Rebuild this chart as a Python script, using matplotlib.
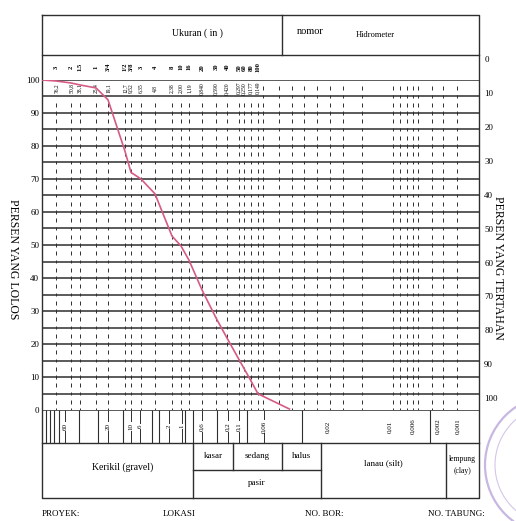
import matplotlib.pyplot as plt
from matplotlib.patches import Circle
import numpy as np

plt.rcParams['font.family'] = ['Liberation Serif', 'DejaVu Serif']

W, H = 516, 521

# sieves along the top of the chart
sieve_names = ['3', '2', '1.5', '1', '3/4', '1/2', '3/8', '3', '4', '8', '10', '16',
               '20', '30', '40', '50', '60', '80', '100']
sieve_mm = [76.2, 50.8, 38.1, 25.4, 19.1, 12.7, 9.52, 6.35, 4.8, 2.38, 2.00, 1.19,
            0.840, 0.590, 0.420, 0.297, 0.250, 0.177, 0.149]
sieve_mm_text = ['76,2', '50,8', '38,1', '25,4', '19,1', '12,7', '9,52', '6,35', '4,8',
                 '2,38', '2,00', '1,19', '0,840', '0,590', '0,420', '0,297', '0,250',
                 '0,177', '0,149']
hydro_cols = [0.08, 0.055, 0.042, 0.033, 0.025, 0.0196, 0.0169, 0.0137, 0.0094, 0.008,
              0.0069, 0.006, 0.0048, 0.0026, 0.0017, 0.00103]

# grading curve (grain size mm, percent passing)
grain_mm = [100, 76.2, 50.8, 38.1, 25.4, 19.1, 12.7, 9.52, 6.35, 4.8, 2.38, 2.00, 1.19,
            0.840, 0.590, 0.420, 0.297, 0.250, 0.177, 0.149, 0.044]
passing = [100, 99.7, 99.1, 98.5, 97.6, 94.0, 78.4, 72.0, 70.0, 65.5, 52.7, 49.7, 45.4,
           36.4, 27.9, 21.8, 15.3, 12.6, 8.8, 4.9, 0.3]

left_labels = list(range(0, 101, 10))
right_labels = list(range(0, 101, 10))

# bottom strip of grain sizes
bottom_vals = [60, 20, 10, 6, 2, 1, 0.6, 0.2, 0.1, 0.06, 0.02, 0.01, 0.006, 0.002, 0.001]
bottom_text = ['60', '20', '10', '6', '2', '1', '0,6', '0,2', '0,1', '0,06', '0,02',
               '0,01', '0,006', '0,002', '0,001']
strip_lines = [100, 90, 81, 71, 42, 26, 12.6, 3.8, 2.9, 0.93, 0.75, 0.32, 0.085, 0.031, 0.0028]

# the printed form is not a clean log scale: piecewise calibration (mm -> px)
scale_mm = [100, 76.2, 50.8, 38.1, 25.4, 19.1, 12.7, 9.52, 6.35, 4.8, 2.38, 2.00, 1.19,
            0.840, 0.590, 0.420, 0.297, 0.250, 0.177, 0.149, 0.074, 0.02, 0.01, 0.006,
            0.002, 0.001, 0.0005]
scale_px = [42, 56, 71, 80, 96, 108, 125, 131, 141, 155, 172, 181, 189, 202, 216, 227,
            239, 244, 251, 258, 264, 328, 390, 413, 438, 458, 479]
strip_mm = [110, 60, 20, 10, 6, 2, 1, 0.6, 0.2, 0.1, 0.06, 0.02, 0.01, 0.006, 0.002,
            0.001, 0.0005]
strip_px = [42, 65, 108, 131, 140, 169, 182, 202, 228, 239, 264, 328, 390, 413, 438,
            458, 479]


def make_scale(mm, px):
    lg = np.log10(mm)[::-1]
    pp = np.array(px, float)[::-1]

    def fwd(d):
        with np.errstate(all='ignore'):
            return np.interp(np.log10(np.clip(d, 1e-9, None)), lg, pp)

    def inv(p):
        return 10 ** np.interp(p, pp[::-1], lg[::-1])
    return fwd, inv


def rect(x0, y0, x1, y1):
    return [x0 / W, 1 - y1 / H, (x1 - x0) / W, (y1 - y0) / H]


ink = '#2e2e2e'
fig = plt.figure(figsize=(W / 100, H / 100), dpi=100)

# form: frame, boxes, captions (pixel coordinates)
form = fig.add_axes([0, 0, 1, 1])
form.set_xlim(0, W)
form.set_ylim(H, 0)
form.axis('off')
form.plot([42, 479, 479, 42, 42], [15, 15, 498, 498, 15], color=ink, lw=1.0)
form.plot([42, 479], [55, 55], color=ink, lw=1.0)
form.plot([282, 282], [15, 55], color=ink, lw=1.0)
form.plot([42, 479], [443, 443], color=ink, lw=1.0)
for x, y0 in [(193, 443), (233, 443), (282, 443), (321, 443), (446, 443)]:
    y1 = 470 if x in (233, 282) else 498
    form.plot([x, x], [y0, y1], color=ink, lw=1.0)
form.plot([193, 321], [470, 470], color=ink, lw=1.0)

form.text(197, 33, 'Ukuran ( in )', fontsize=7, ha='center', va='center')
form.text(310, 31, 'nomor', fontsize=7.5, ha='center', va='center')
form.text(375, 35, 'Hidrometer', fontsize=6, ha='center', va='center')
form.text(13, 259, 'PERSEN YANG LOLOS', rotation=-90, fontsize=8.5, ha='center', va='center')
form.text(498, 268, 'PERSEN YANG TERTAHAN', rotation=-90, fontsize=8.5, ha='center', va='center')
form.text(123, 467, 'Kerikil (gravel)', fontsize=7, ha='center', va='center')
form.text(213, 456, 'kasar', fontsize=6.5, ha='center', va='center')
form.text(257, 456, 'sedang', fontsize=6.5, ha='center', va='center')
form.text(301, 456, 'halus', fontsize=6.5, ha='center', va='center')
form.text(257, 483, 'pasir', fontsize=6.5, ha='center', va='center')
form.text(383, 463, 'lanau (silt)', fontsize=6.5, ha='center', va='center')
form.text(462, 459, 'lempung', fontsize=5.5, ha='center', va='center')
form.text(462, 471, '(clay)', fontsize=5.5, ha='center', va='center')
form.text(42, 514, 'PROYEK:', fontsize=6.5, ha='left', va='center')
form.text(163, 514, 'LOKASI', fontsize=6.5, ha='left', va='center')
form.text(305, 514, 'NO. BOR:', fontsize=6.5, ha='left', va='center')
form.text(428, 514, 'NO. TABUNG:', fontsize=6.5, ha='left', va='center')
form.add_patch(Circle((555, 465), 70, fill=False, ec='#b9a5da', lw=1.6, alpha=0.8))
form.add_patch(Circle((555, 465), 60, fill=False, ec='#c9b9e4', lw=0.8, alpha=0.8))

# chart area
ax = fig.add_axes(rect(42, 80, 479, 410))
ax.patch.set_alpha(0)
ax.set_xscale('function', functions=make_scale(scale_mm, scale_px))
ax.set_xlim(0.0005, 100)
ax.set_ylim(0, 100)
for s in ax.spines.values():
    s.set_visible(False)
ax.set_xticks([])
ax.set_yticks(left_labels)
ax.tick_params(axis='y', length=0, pad=2, labelsize=6.5)

ax.hlines(np.arange(5, 101, 5), 100, 0.0005, color=ink, lw=1.1)
ys = np.arange(0, 93, 2.5)
ax.vlines(np.repeat(sieve_mm, len(ys)), np.tile(ys, len(sieve_mm)) - 0.6,
          np.tile(ys, len(sieve_mm)) + 0.6, color=ink, lw=0.7)
ys2 = np.arange(0, 98, 2.5)
ax.vlines(np.repeat(hydro_cols, len(ys2)), np.tile(ys2, len(hydro_cols)) - 0.6,
          np.tile(ys2, len(hydro_cols)) + 0.6, color=ink, lw=0.7)
for mm, t in zip(sieve_mm, sieve_mm_text):
    ax.text(mm, 97.5, t, rotation=90, fontsize=4.0, ha='center', va='center')
for mm, t in zip(sieve_mm, sieve_names):
    ax.text(mm, 1.039, t, rotation=90, fontsize=4.8, fontweight='bold', ha='center',
            va='center', transform=ax.get_xaxis_transform(), clip_on=False)

ax.plot(grain_mm, passing, color='#d65a85', lw=1.2, zorder=5)

ax2 = ax.twinx()
ax2.set_ylim(103.2, 5.84)
ax2.set_yticks([])
for s in ax2.spines.values():
    s.set_visible(False)
for r in right_labels:
    ax2.text(1.012, r, str(r), fontsize=6.5, ha='left', va='center',
             transform=ax2.get_yaxis_transform(), clip_on=False)

# grain size strip below the chart
sx = fig.add_axes(rect(42, 410, 479, 443))
sx.patch.set_alpha(0)
sx.set_xscale('function', functions=make_scale(strip_mm, strip_px))
sx.set_xlim(0.0005, 110)
sx.set_ylim(0, 1)
sx.axis('off')
sx.hlines(1, 110, 0.0005, color=ink, lw=1.1)
sx.vlines(strip_lines, 0, 1, color=ink, lw=0.8)
sx.vlines(bottom_vals[:10], 0, 1, color=ink, lw=0.7)
for v, t in zip(bottom_vals, bottom_text):
    sx.text(v, 0.5, t, rotation=90, fontsize=5, ha='center', va='center',
            bbox=dict(fc='white', ec='none', pad=0.5))

fig.savefig('out.png', dpi=100)
